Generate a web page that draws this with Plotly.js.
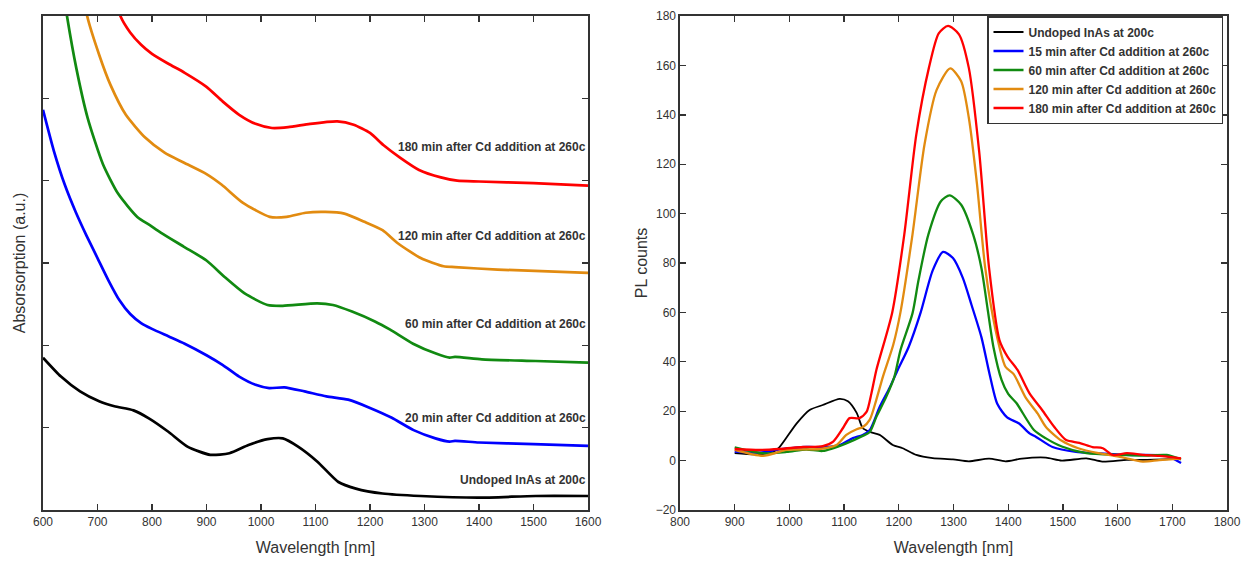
<!DOCTYPE html>
<html>
<head>
<meta charset="utf-8">
<script src="https://cdn.plot.ly/plotly-3.0.1.min.js"></script>
<style>html,body{margin:0;padding:0;background:#fff;} #chart{width:1251px;height:561px;}</style>
</head>
<body>
<div id="chart"></div>
<script>
// ---------- Left panel: absorption (arbitrary units, offset curves) ----------
const absBlackX = [600, 633, 668, 703, 731, 766, 795, 830, 865, 907, 942, 977, 1012, 1040, 1068, 1103, 1142, 1174, 1223, 1293, 1398, 1504, 1600];
const absBlackY = [1.85, 1.62, 1.44, 1.32, 1.26, 1.21, 1.11, 0.95, 0.77, 0.67, 0.69, 0.79, 0.86, 0.87, 0.77, 0.59, 0.34, 0.26, 0.20, 0.17, 0.15, 0.17, 0.17];

const absBlueX = [600, 620, 640, 660, 680, 700, 720, 740, 760, 780, 800, 830, 860, 900, 930, 960, 990, 1015, 1043, 1080, 1120, 1160, 1200, 1240, 1280, 1320, 1346, 1356, 1400, 1500, 1600];
const absBlueY = [4.86, 4.36, 3.95, 3.62, 3.33, 3.06, 2.79, 2.55, 2.38, 2.27, 2.20, 2.11, 2.02, 1.88, 1.76, 1.62, 1.52, 1.48, 1.49, 1.44, 1.38, 1.34, 1.24, 1.12, 0.97, 0.87, 0.83, 0.84, 0.82, 0.80, 0.78];

const absGreenX = [636, 644, 661, 682, 710, 738, 773, 796, 816, 858, 900, 935, 970, 1012, 1040, 1103, 1132, 1167, 1209, 1237, 1279, 1321, 1346, 1356, 1405, 1504, 1600];
const absGreenY = [6.35, 6.0, 5.37, 4.76, 4.20, 3.84, 3.56, 3.46, 3.37, 3.20, 3.03, 2.82, 2.63, 2.49, 2.48, 2.51, 2.49, 2.41, 2.29, 2.19, 2.02, 1.90, 1.85, 1.86, 1.83, 1.81, 1.79];

const absOrangeX = [672, 681, 703, 724, 752, 788, 823, 858, 900, 928, 967, 1016, 1047, 1082, 1118, 1153, 1190, 1223, 1251, 1293, 1335, 1356, 1434, 1600];
const absOrangeY = [6.35, 6.0, 5.53, 5.16, 4.80, 4.52, 4.34, 4.22, 4.08, 3.95, 3.73, 3.56, 3.56, 3.61, 3.62, 3.60, 3.50, 3.40, 3.24, 3.06, 2.96, 2.95, 2.92, 2.88];

const absRedX = [730, 742, 760, 780, 800, 830, 860, 900, 930, 960, 990, 1020, 1050, 1090, 1140, 1170, 1200, 1225, 1255, 1290, 1330, 1360, 1400, 1500, 1600];
const absRedY = [6.3, 6.0, 5.80, 5.65, 5.54, 5.42, 5.31, 5.14, 4.96, 4.80, 4.69, 4.64, 4.65, 4.69, 4.72, 4.68, 4.58, 4.43, 4.28, 4.13, 4.04, 4.00, 3.99, 3.97, 3.94];

const absLabels = ["Undoped InAs at 200c", "20 min after Cd addition at 260c", "60 min after Cd addition at 260c", "120 min after Cd addition at 260c", "180 min after Cd addition at 260c"];
const absLabelY = [0.36, 1.12, 2.26, 3.33, 4.41];

// ---------- Right panel: PL counts ----------
const plNames = ["Undoped InAs at 200c", "15 min after Cd addition at 260c", "60 min after Cd addition at 260c", "120 min after Cd addition at 260c", "180 min after Cd addition at 260c"];

const plBlackX = [900, 940, 970, 982, 1013, 1037, 1061, 1092, 1107, 1123, 1134, 1147, 1165, 1189, 1207, 1232, 1262, 1299, 1328, 1365, 1395, 1425, 1469, 1498, 1543, 1572, 1617, 1646, 1705];
const plBlackY = [3.0, 2.5, 3.5, 5.5, 15, 20.5, 22.5, 25, 24, 19.3, 13.2, 11.6, 10.4, 6.3, 5, 2.3, 1, 0.5, -0.3, 0.8, -0.3, 0.8, 1.2, 0, 0.9, -0.4, 0.3, 0.3, 0.7];

const plBlueX = [900, 946, 982, 1031, 1068, 1092, 1116, 1134, 1147, 1165, 1183, 1198, 1218, 1240, 1262, 1281, 1299, 1317, 1333, 1351, 1366, 1380, 1398, 1420, 1439, 1451, 1481, 1524, 1557, 1616, 1689, 1716];
const plBlueY = [3.6, 3.2, 4.5, 5.5, 5.5, 6.3, 9.1, 10.4, 12.4, 21.7, 29.4, 36.7, 46, 60, 77, 84.5, 82, 74, 63, 50, 35, 23, 17.5, 15, 11, 9.6, 5.5, 3.5, 3, 2.3, 1.9, -1];

const plGreenX = [900, 952, 995, 1031, 1061, 1104, 1134, 1147, 1159, 1177, 1192, 1203, 1225, 1236, 1254, 1277, 1293, 1314, 1336, 1351, 1362, 1373, 1388, 1400, 1415, 1447, 1469, 1498, 1543, 1602, 1646, 1690, 1716];
const plGreenY = [5.4, 3, 3.5, 4.5, 3.9, 7, 10, 11.6, 17.7, 25.8, 34, 44.7, 59.6, 73, 91.5, 105, 107.4, 103.6, 91.5, 78, 62, 46, 32.6, 27, 23.3, 12.4, 9, 5.7, 3, 2.3, 2, 2.3, 0.5];

const plOrangeX = [900, 952, 995, 1055, 1086, 1104, 1123, 1134, 1147, 1159, 1171, 1190, 1203, 1225, 1247, 1269, 1294, 1314, 1328, 1343, 1358, 1377, 1395, 1410, 1432, 1454, 1469, 1498, 1528, 1565, 1602, 1646, 1676, 1716];
const plOrangeY = [4.3, 1.9, 4.3, 4.7, 6.3, 10.4, 12.7, 13.5, 16.6, 24.7, 34, 47, 60, 91.5, 128, 150, 158.8, 153.6, 138.8, 111.8, 78, 52.8, 38, 35, 25.5, 19, 13.6, 8, 5, 3, 1.6, -0.4, 0.2, 0.8];

const plRedX = [900, 946, 982, 1025, 1061, 1080, 1098, 1110, 1128, 1141, 1150, 1159, 1188, 1210, 1232, 1255, 1273, 1290, 1310, 1328, 1347, 1365, 1384, 1399, 1417, 1439, 1462, 1484, 1506, 1530, 1554, 1573, 1591, 1617, 1646, 1676, 1716];
const plRedY = [4.7, 4.3, 4.7, 5.5, 5.9, 7.7, 13.2, 17.2, 17.2, 19.7, 27.3, 36.7, 60, 91.5, 132, 159, 173, 176, 172.6, 159, 125, 78, 48.8, 42, 36.7, 27.2, 20.5, 13.7, 8.3, 7.2, 5.5, 5.0, 2.3, 3, 2.3, 1.9, 0.9];

// ---------- Styles ----------
const cBlack = '#000000', cBlue = '#0000ff', cGreen = '#118a11', cOrange = '#e28b10', cRed = '#ff0000';
const FONT = 'Arial, "Liberation Sans", sans-serif';
const axisColor = '#333333';

function absTrace(x, y, color) {
  return {x: x, y: y, xaxis: 'x', yaxis: 'y', type: 'scatter', mode: 'lines', showlegend: false,
    line: {color: color, width: 2.7, shape: 'spline', smoothing: 0.6}, hoverinfo: 'skip'};
}
function plTrace(x, y, color, name, w) {
  return {x: x, y: y, xaxis: 'x2', yaxis: 'y2', type: 'scatter', mode: 'lines', name: name,
    line: {color: color, width: w, shape: 'spline', smoothing: 0.7}};
}

const traces = [
  absTrace(absBlackX, absBlackY, cBlack),
  absTrace(absBlueX, absBlueY, cBlue),
  absTrace(absGreenX, absGreenY, cGreen),
  absTrace(absOrangeX, absOrangeY, cOrange),
  absTrace(absRedX, absRedY, cRed),
  plTrace(plBlackX, plBlackY, cBlack, plNames[0], 1.8),
  plTrace(plBlueX, plBlueY, cBlue, plNames[1], 2.3),
  plTrace(plGreenX, plGreenY, cGreen, plNames[2], 2.3),
  plTrace(plOrangeX, plOrangeY, cOrange, plNames[3], 2.3),
  plTrace(plRedX, plRedY, cRed, plNames[4], 2.3)
];

const annotations = absLabels.map((t, i) => ({
  xref: 'x', yref: 'y', x: 1600, y: absLabelY[i], xanchor: 'right', yanchor: 'middle',
  text: '<b>' + t + '</b>', showarrow: false, font: {family: FONT, size: 12, color: '#333'}
}));

const baseAxis = {
  showline: true, mirror: 'ticks', linecolor: axisColor, linewidth: 1.6,
  ticks: 'inside', ticklen: 6, tickwidth: 1.4, tickcolor: axisColor,
  showgrid: false, zeroline: false,
  tickfont: {family: FONT, size: 12, color: '#333'}
};

const layout = {
  width: 1251, height: 561,
  margin: {l: 0, r: 0, t: 0, b: 0},
  paper_bgcolor: '#ffffff', plot_bgcolor: '#ffffff',
  font: {family: FONT, color: '#333'},
  xaxis: Object.assign({}, baseAxis, {domain: [43/1251, 588/1251], anchor: 'y', range: [600, 1600], dtick: 100, tick0: 600,
    title: {text: 'Wavelength [nm]', font: {family: FONT, size: 16, color: '#333'}, standoff: 14}}),
  yaxis: Object.assign({}, baseAxis, {domain: [51/561, 545/561], anchor: 'x', range: [0, 6], dtick: 1, showticklabels: false,
    title: {text: 'Absorsorption (a.u.)', font: {family: FONT, size: 16, color: '#333'}, standoff: 12}}),
  xaxis2: Object.assign({}, baseAxis, {domain: [680/1251, 1227/1251], anchor: 'y2', range: [800, 1800], dtick: 100, tick0: 800,
    title: {text: 'Wavelength [nm]', font: {family: FONT, size: 16, color: '#333'}, standoff: 14}}),
  yaxis2: Object.assign({}, baseAxis, {domain: [51/561, 545/561], anchor: 'x2', range: [-20, 180], dtick: 20,
    title: {text: 'PL counts', font: {family: FONT, size: 16, color: '#333'}, standoff: 4}}),
  legend: {
    x: 1223/1251, y: 545/561, xanchor: 'right', yanchor: 'top',
    bgcolor: '#ffffff', bordercolor: '#333', borderwidth: 1.5,
    font: {family: FONT, size: 12, color: '#333', weight: 'bold'},
    tracegroupgap: 0, itemwidth: 30
  },
  annotations: annotations
};

Plotly.newPlot('chart', traces, layout, {staticPlot: true, displayModeBar: false});
</script>
</body>
</html>
